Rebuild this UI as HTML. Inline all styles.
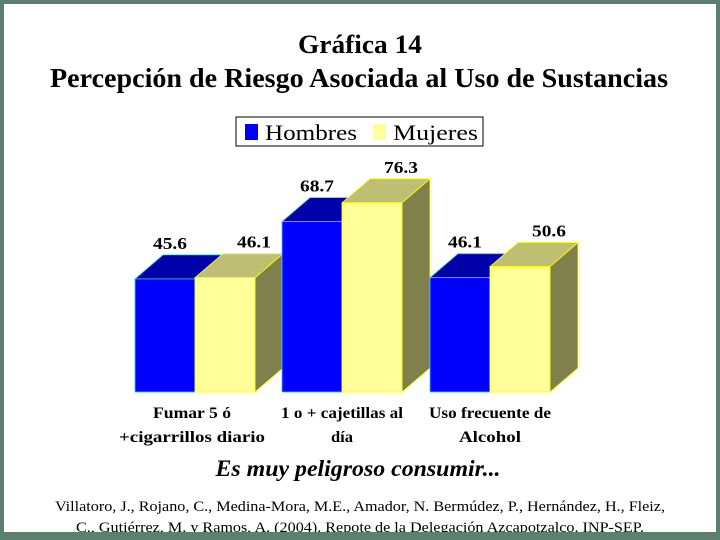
<!DOCTYPE html>
<html><head><meta charset="utf-8"><style>
html,body{margin:0;padding:0;background:#fff}
svg{display:block}
text{font-family:"Liberation Serif",serif}
</style></head><body>
<svg id="chart" width="720" height="540" viewBox="0 0 720 540" xmlns="http://www.w3.org/2000/svg">
<rect x="0" y="0" width="720" height="540" fill="#5b8070"/>
<rect x="4" y="4" width="712" height="528" fill="#ffffff"/>
<text x="360" y="53" text-anchor="middle" font-size="26" font-weight="bold" textLength="124" lengthAdjust="spacingAndGlyphs">Gráfica 14</text>
<text x="359" y="87" text-anchor="middle" font-size="27" font-weight="bold" textLength="618" lengthAdjust="spacingAndGlyphs">Percepción de Riesgo Asociada al Uso de Sustancias</text>
<g>
<rect x="236" y="117" width="247" height="29" fill="#fff" stroke="#000" stroke-width="1"/>
<rect x="245" y="124" width="13" height="16" fill="#0000ff"/>
<text x="265" y="140" font-size="22" textLength="92" lengthAdjust="spacingAndGlyphs">Hombres</text>
<rect x="373" y="124" width="13" height="16" fill="#ffff99"/>
<text x="393" y="140" font-size="22" textLength="85" lengthAdjust="spacingAndGlyphs">Mujeres</text>
</g>
<g id="bars"></g>
<g id="labels"></g>
<text x="358" y="476" text-anchor="middle" font-size="23" font-weight="bold" font-style="italic" textLength="285" lengthAdjust="spacingAndGlyphs">Es muy peligroso consumir...</text>
<text x="360" y="511" text-anchor="middle" font-size="15" textLength="610" lengthAdjust="spacingAndGlyphs">Villatoro, J., Rojano, C., Medina-Mora, M.E., Amador, N. Bermúdez, P., Hernández, H., Fleiz,</text>
<text x="360" y="532" text-anchor="middle" font-size="15" textLength="568" lengthAdjust="spacingAndGlyphs">C., Gutiérrez, M. y Ramos, A. (2004). Repote de la Delegación Azcapotzalco. INP-SEP.</text>
<rect x="0" y="532" width="720" height="8" fill="#5b8070"/>
</svg>
<script>
const categories = [["Fumar 5 ó","+cigarrillos diario"],["1 o + cajetillas al","día"],["Uso frecuente de","Alcohol"]];
const hombres = [45.6, 68.7, 46.1];
const mujeres = [46.1, 76.3, 50.6];
const valueLabels = ["45.6","46.1","68.7","76.3","46.1","50.6"];

const NS = "http://www.w3.org/2000/svg";
const base = 392, scale = 2.48;
const groupX = [135, 282, 430], bw = 60, dx = 28, dy = -24;
function yOf(v){ return base - v*scale; }
const bars = document.getElementById('bars');
const labels = document.getElementById('labels');
function mk(tag, attrs, parent){
  const e = document.createElementNS(NS, tag);
  for (const k in attrs) e.setAttribute(k, attrs[k]);
  parent.appendChild(e); return e;
}
const series = [
  {vals: hombres, front:"#0000ff", top:"#0000aa", side:"#000080", stroke:"#33ccff", name:"hombres"},
  {vals: mujeres, front:"#ffff99", top:"#bfbf73", side:"#80804d", stroke:"#ffff00", name:"mujeres"}
];
const catWidths = [[78,146],[122,22],[122,62]];
for (let i = 0; i < categories.length; i++) {
  for (let s = 0; s < 2; s++) {
    const sr = series[s], v = sr.vals[i];
    const x = groupX[i] + s*bw, y = yOf(v);
    const g = mk('g', {}, bars);
    
    
    const side = mk('polygon', {points:`${x+bw},${y} ${x+bw+dx},${y+dy} ${x+bw+dx},${base+dy} ${x+bw},${base}`, fill:sr.side, stroke:sr.stroke, 'stroke-width':0.8}, g);
    
    
    const top = mk('polygon', {points:`${x},${y} ${x+dx},${y+dy} ${x+bw+dx},${y+dy} ${x+bw},${y}`, fill:sr.top, stroke:sr.stroke, 'stroke-width':0.8}, g);
    
    
    const front = mk('rect', {x:x, y:y, width:bw, height:base-y, fill:sr.front, stroke:sr.stroke, 'stroke-width':0.8}, g);
    
    
    const t = mk('text', {x: x + bw/2 + dx/2 + (s===0?-9:15), y: y + dy - 6, 'text-anchor':'middle', 'font-size':17, 'font-weight':'bold', textLength:34, lengthAdjust:'spacingAndGlyphs'}, bars);
    t.textContent = valueLabels[i*2+s];
    
    
  }
  const cx = groupX[i] + bw + (i===0 ? -3 : 0);
  for (let l = 0; l < 2; l++) {
    const t = mk('text', {x: cx, y: 418 + l*24, 'text-anchor':'middle', 'font-size':16, 'font-weight':'bold', textLength:catWidths[i][l], lengthAdjust:'spacingAndGlyphs'}, labels);
    t.textContent = categories[i][l];
    
    
  }
}
</script>
</body></html>
